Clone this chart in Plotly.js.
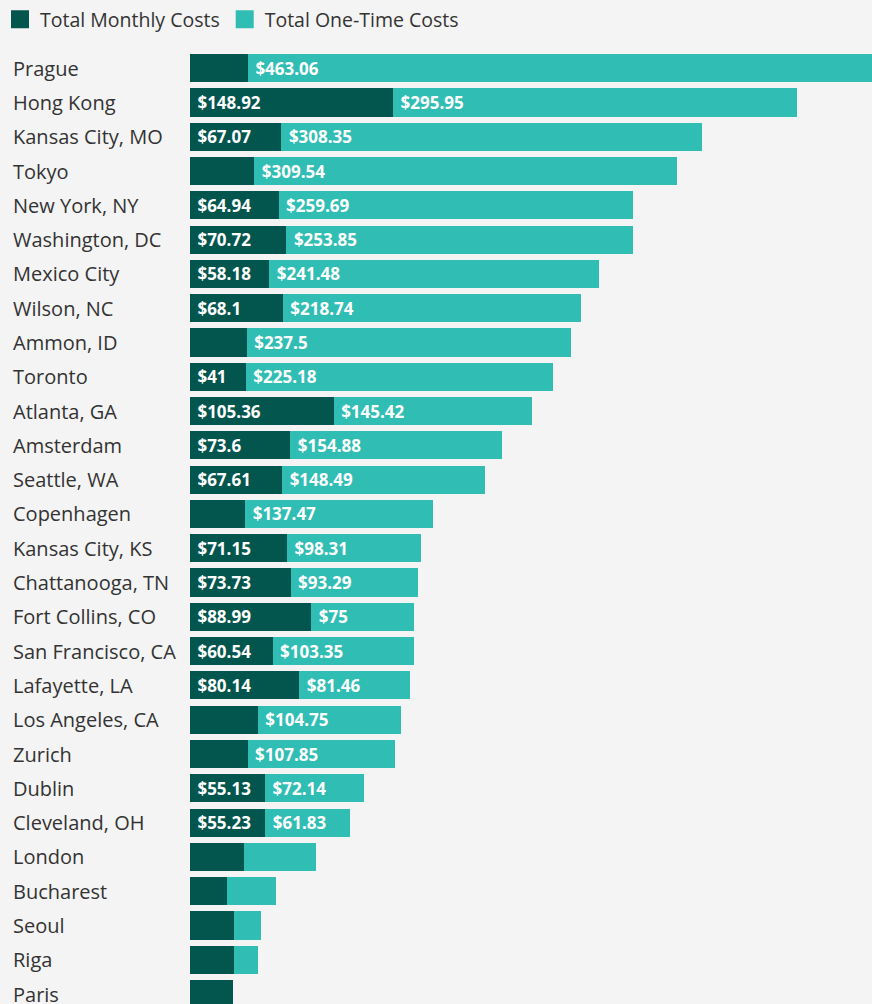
<!DOCTYPE html>
<html>
<head>
<meta charset="utf-8">
<script src="https://cdn.plot.ly/plotly-3.0.1.min.js"></script>
<style>
  html, body { margin: 0; padding: 0; background: #f4f4f4; overflow: hidden; }
  #plotArea { width: 872px; height: 1004px; }
</style>
</head>
<body>
<div id="plotArea"></div>
<script>
// cities, top to bottom
var cities = ["Prague", "Hong Kong", "Kansas City, MO", "Tokyo", "New York, NY",
    "Washington, DC", "Mexico City", "Wilson, NC", "Ammon, ID", "Toronto",
    "Atlanta, GA", "Amsterdam", "Seattle, WA", "Copenhagen", "Kansas City, KS",
    "Chattanooga, TN", "Fort Collins, CO", "San Francisco, CA", "Lafayette, LA",
    "Los Angeles, CA", "Zurich", "Dublin", "Cleveland, OH", "London",
    "Bucharest", "Seoul", "Riga", "Paris"];

// monthly costs (unlabelled ones)
var monthly = [42.5, 148.92, 67.07, 47.2, 64.94, 70.72, 58.18, 68.1, 41.6, 41,
    105.36, 73.6, 67.61, 40.5, 71.15, 73.73, 88.99, 60.54, 80.14,
    49.8, 42.3, 55.13, 55.23, 39.8, 26.9, 32.5, 32.5, 31.3];
var monthlyLabels = ["", "$148.92", "$67.07", "", "$64.94", "$70.72", "$58.18", "$68.1", "", "$41",
    "$105.36", "$73.6", "$67.61", "", "$71.15", "$73.73", "$88.99", "$60.54", "$80.14",
    "", "", "$55.13", "$55.23", "", "", "", "", ""];

// one-time costs
var oneTime = [463.06, 295.95, 308.35, 309.54, 259.69, 253.85, 241.48, 218.74, 237.5, 225.18,
    145.42, 154.88, 148.49, 137.47, 98.31, 93.29, 75, 103.35, 81.46,
    104.75, 107.85, 72.14, 61.83, 52.3, 36.4, 19.8, 17.6, 0];
var oneTimeLabels = ["$463.06", "$295.95", "$308.35", "$309.54", "$259.69", "$253.85", "$241.48", "$218.74", "$237.5", "$225.18",
    "$145.42", "$154.88", "$148.49", "$137.47", "$98.31", "$93.29", "$75", "$103.35", "$81.46",
    "$104.75", "$107.85", "$72.14", "$61.83", "", "", "", "", ""];

var darkGreen = "#02564e";
var teal = "#30bdb3";
var font = "'Open Sans', sans-serif";

function pad(arr) {
    return arr.map(function (t) { return t ? "\u00a0" + t : ""; });
}

var monthlyTrace = {
    type: "bar", orientation: "h",
    x: monthly, y: cities,
    text: pad(monthlyLabels),
    textposition: "inside", insidetextanchor: "start",
    textfont: {color: "#ffffff", size: 17, family: font, weight: "bold"},
    marker: {color: darkGreen},
    showlegend: false, hoverinfo: "none"
};

var oneTimeTrace = {
    type: "bar", orientation: "h",
    x: oneTime, y: cities,
    text: pad(oneTimeLabels),
    textposition: "inside", insidetextanchor: "start",
    textfont: {color: "#ffffff", size: 17, family: font, weight: "bold"},
    marker: {color: teal},
    showlegend: false, hoverinfo: "none"
};

// legend-only entries so the squares are big enough
var legendMonthly = {
    type: "scatter", mode: "markers", x: [null], y: [null],
    name: "Total Monthly Costs",
    marker: {symbol: "square", size: 16, color: darkGreen, line: {width: 2, color: darkGreen}}
};
var legendOneTime = {
    type: "scatter", mode: "markers", x: [null], y: [null],
    name: "Total One-Time Costs",
    marker: {symbol: "square", size: 16, color: teal, line: {width: 2, color: teal}}
};

// city names, left aligned
var cityLabels = cities.map(function (c) {
    return {
        xref: "paper", yref: "y", x: -0.262, y: c,
        text: c, showarrow: false, xanchor: "left", yanchor: "middle",
        font: {family: font, size: 20, color: "#333333"}
    };
});

var layout = {
    width: 872, height: 1004,
    paper_bgcolor: "#f4f4f4", plot_bgcolor: "#f4f4f4",
    margin: {l: 190, r: 0, t: 51, b: 0},
    barmode: "stack", bargap: 0.18,
    uniformtext: {minsize: 17, mode: "show"},
    font: {family: font, color: "#333333"},
    xaxis: {range: [0, 500], visible: false, fixedrange: true},
    yaxis: {
        type: "category", range: [27.29, -0.5],
        showticklabels: false, showgrid: false, zeroline: false, fixedrange: true
    },
    showlegend: true,
    legend: {
        orientation: "h", traceorder: "normal",
        xref: "container", yref: "container",
        x: -0.0023, xanchor: "left", y: 1, yanchor: "top",
        font: {size: 19.5, color: "#333333", family: font},
        bgcolor: "rgba(0,0,0,0)", itemwidth: 30
    },
    annotations: cityLabels
};

Plotly.newPlot("plotArea", [monthlyTrace, oneTimeTrace, legendMonthly, legendOneTime], layout,
    {displayModeBar: false, staticPlot: true});
</script>
</body>
</html>
